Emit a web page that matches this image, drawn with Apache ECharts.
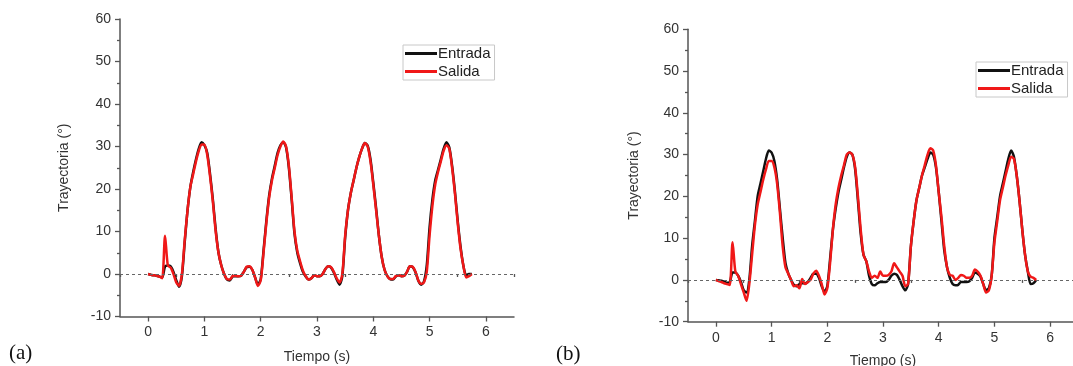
<!DOCTYPE html>
<html>
<head>
<meta charset="utf-8">
<script src="https://cdn.jsdelivr.net/npm/echarts@6/dist/echarts.min.js"></script>
<style>
html,body{margin:0;padding:0;background:#fff;}
#c{width:1073px;height:366px;}
</style>
</head>
<body>
<div id="c"></div>
<script>
// time samples (s)
const time = [
0.00,0.05,0.10,0.15,0.20,0.25,0.30,0.35,0.40,0.45,0.50,0.55,0.60,0.65,0.70,0.75,0.80,0.85,0.90,0.95,
1.00,1.05,1.10,1.15,1.20,1.25,1.30,1.35,1.40,1.45,1.50,1.55,1.60,1.65,1.70,1.75,1.80,1.85,1.90,1.95,
2.00,2.05,2.10,2.15,2.20,2.25,2.30,2.35,2.40,2.45,2.50,2.55,2.60,2.65,2.70,2.75,2.80,2.85,2.90,2.95,
3.00,3.05,3.10,3.15,3.20,3.25,3.30,3.35,3.40,3.45,3.50,3.55,3.60,3.65,3.70,3.75,3.80,3.85,3.90,3.95,
4.00,4.05,4.10,4.15,4.20,4.25,4.30,4.35,4.40,4.45,4.50,4.55,4.60,4.65,4.70,4.75,4.80,4.85,4.90,4.95,
5.00,5.05,5.10,5.15,5.20,5.25,5.30,5.35,5.40,5.45,5.50,5.55,5.60,5.65,5.70,5.75
];
// panel (a)
const entradaA = [
0,-0.2,-0.3,-0.4,-0.6,-0.8,1.8,2.0,1.8,0.5,-1.5,-3.0,-0.5,7.5,15.0,20.5,24.0,27.0,29.5,31.0,
30.3,28.5,23.5,17.5,10.5,5.0,2.0,0.0,-1.3,-1.5,-0.6,-0.5,-0.5,-0.4,0.5,1.6,1.7,1.0,-0.8,-2.5,
-1.2,5.5,12.5,18.5,22.5,25.5,28.5,30.3,31.0,29.8,25.0,17.5,9.5,5.0,2.5,0.5,-0.6,-1.3,-1.0,-0.3,
-0.5,-0.5,0.0,1.2,1.8,1.5,0.3,-1.3,-2.5,-0.5,8.5,15.0,19.0,22.0,25.0,27.5,29.5,30.8,30.2,27.0,
21.5,15.5,9.0,4.0,1.0,-0.5,-1.2,-1.3,-0.6,-0.3,-0.5,-0.4,0.5,1.8,1.6,0.4,-1.6,-2.5,-1.8,2.0,
11.0,17.5,22.0,24.5,27.0,29.5,31.0,29.8,25.5,19.5,12.5,6.5,2.0,-0.3,0.0,0.0
];
const salidaA = [
0,-0.2,-0.3,-0.4,-0.6,-1.0,9.0,2.0,1.5,0.0,-2.0,-2.8,0.0,8.0,15.0,20.5,23.5,26.5,29.0,30.5,
30.5,28.0,23.0,17.0,10.0,5.0,2.0,0.0,-1.2,-1.3,-0.5,-0.4,-0.5,-0.4,0.5,1.7,1.8,1.0,-0.8,-2.8,
-1.5,5.0,12.0,18.0,22.0,25.0,28.0,30.0,31.2,30.0,25.5,18.0,10.0,5.5,3.0,0.8,-0.5,-1.3,-1.0,-0.3,
-0.5,-0.5,0.0,1.2,1.8,1.6,0.5,-1.0,-2.0,0.0,9.0,15.0,19.0,22.0,25.0,27.5,29.5,30.8,30.0,26.5,
21.0,15.0,9.0,4.0,1.0,-0.5,-1.2,-1.2,-0.5,-0.3,-0.5,-0.4,0.5,1.8,1.7,0.5,-1.5,-2.3,-2.0,0.5,
9.0,16.0,21.0,24.0,26.5,29.0,30.3,29.5,25.0,19.0,12.0,6.0,2.0,-0.8,-0.5,0.0
];
// panel (b)
const entradaB = [
0,-0.1,-0.2,-0.4,-0.7,-0.5,1.8,1.8,1.0,-0.5,-2.5,-3.0,0.0,8.0,14.0,20.0,23.0,26.0,29.0,31.0,
30.5,28.5,24.0,17.0,10.0,4.0,1.5,0.0,-1.2,-1.5,-1.0,-0.8,-0.8,-0.5,0.5,1.5,1.5,0.5,-1.5,-2.8,
-1.5,5.0,12.0,17.0,21.0,24.0,27.0,29.5,30.5,30.0,26.5,19.0,11.0,6.0,4.5,1.0,-1.0,-1.3,-0.8,-0.5,
-0.5,-0.5,0.0,1.0,1.5,1.2,0.0,-1.5,-2.5,-1.0,8.0,14.0,19.0,22.0,25.0,27.0,29.0,30.5,30.0,27.0,
21.0,14.0,7.0,3.0,0.5,-1.0,-1.3,-1.2,-0.5,-0.5,-0.5,-0.3,0.5,1.8,1.5,0.8,-1.0,-2.5,-2.0,1.0,
10.0,15.0,20.0,23.0,26.0,29.0,31.0,29.5,25.0,19.0,12.0,6.0,2.0,-1.0,-0.8,0.0
];
const salidaB = [
0,-0.3,-0.5,-0.8,-1.0,-1.2,9.0,2.0,1.0,-1.0,-3.0,-5.0,-1.0,6.0,13.0,18.0,21.0,24.0,26.5,28.5,
28.5,27.0,23.0,16.0,8.0,3.0,1.5,0.0,-1.5,-1.3,-2.0,0.2,-1.0,-0.5,0.0,1.5,2.2,1.0,-1.0,-3.5,
-2.0,4.0,12.0,18.0,22.0,25.0,27.5,30.0,30.5,30.0,27.0,20.0,12.0,6.0,4.5,2.0,0.5,1.0,0.5,2.0,
1.0,1.0,1.2,2.0,4.0,3.0,2.0,1.0,-1.5,-1.0,8.0,14.0,19.0,22.0,25.0,27.5,30.0,31.5,31.0,27.5,
21.0,15.0,8.0,3.0,1.2,1.0,0.0,0.5,1.2,1.0,0.5,0.5,1.0,2.5,2.0,1.0,-1.0,-3.0,-2.5,1.0,
9.0,14.0,19.0,22.0,25.0,27.5,29.5,29.0,25.0,19.0,12.0,6.0,2.0,0.8,0.5,0.0
];
// tick labels
const xMajor = [0,1,2,3,4,5,6];
const xMinor = [-0.5,0.5,1.5,2.5,3.5,4.5,5.5,6.5];
const seriesNames = ['Entrada','Salida'];
const xName = 'Tiempo (s)';
const yName = 'Trayectoria (°)';
const panelLabels = ['(a)','(b)'];

const FONT = '"Liberation Sans", Arial, sans-serif';
const AX = '#555';
const TXT = '#333';
const BLACK = '#111111';
const RED = '#f01818';

function pairs(v){ return time.map((t,i)=>[t,v[i]]); }

const grids = [
  {left:120, top:19, width:394, height:297.5, containLabel:false, outerBoundsMode:'none'},
  {left:688, top:29.3, width:390, height:292.4, containLabel:false, outerBoundsMode:'none'}
];
const yGaps = [49, 47];
const xGaps = [34, 32];

const xAxes = [], yAxes = [], series = [];
grids.forEach((g,gi)=>{
  xAxes.push({
    type:'value', gridIndex:gi, min:-0.5, max:6.5,
    name:xName, nameLocation:'middle', nameGap:xGaps[gi],
    nameTextStyle:{fontFamily:FONT,fontSize:14,color:TXT},
    axisLine:{show:true,onZero:false,lineStyle:{color:AX,width:1.5}},
    axisTick:{show:true,customValues:xMajor,length:5,inside:false,lineStyle:{color:AX,width:1.3}},
    axisLabel:{customValues:xMajor,fontFamily:FONT,fontSize:14,color:TXT,margin:9},
    splitLine:{show:false}
  });
  xAxes.push({
    type:'value', gridIndex:gi, min:-0.5, max:6.5, position:'bottom',
    axisLine:{show:false},
    axisTick:{show:true,customValues:xMinor,length:3,lineStyle:{color:AX,width:1.3}},
    axisLabel:{show:false},
    splitLine:{show:false}
  });
  yAxes.push({
    type:'value', gridIndex:gi, min:-10, max:60, interval:10,
    name:yName, nameLocation:'middle', nameGap:yGaps[gi],
    nameTextStyle:{fontFamily:FONT,fontSize:14,color:TXT},
    axisLine:{show:true,onZero:false,lineStyle:{color:AX,width:1.5}},
    axisTick:{show:true,length:5,lineStyle:{color:AX,width:1.3}},
    minorTick:{show:true,splitNumber:2,length:3,lineStyle:{color:AX,width:1.3}},
    axisLabel:{fontFamily:FONT,fontSize:14,color:TXT,margin:9},
    splitLine:{show:false}
  });
});

const data = [[entradaA,salidaA],[entradaB,salidaB]];
data.forEach((pair,gi)=>{
  series.push({
    name:seriesNames[0], type:'line', xAxisIndex:gi*2, yAxisIndex:gi,
    data:pairs(pair[0]), showSymbol:false, smooth:0.25,
    lineStyle:{color:BLACK,width:2.5}, itemStyle:{color:BLACK},
    z:3,
    markLine:{silent:true, symbol:['none','none'], label:{show:false},
      lineStyle:{color:'#666',type:[3,3],width:1}, data:[{yAxis:0}]}
  });
  series.push({
    name:seriesNames[1], type:'line', xAxisIndex:gi*2, yAxisIndex:gi,
    data:pairs(pair[1]), showSymbol:false, smooth:0.25,
    lineStyle:{color:RED,width:2.5}, itemStyle:{color:RED},
    z:4
  });
});

const legendBase = {
  orient:'vertical', icon:'rect', itemWidth:32, itemHeight:3, itemGap:3,
  borderColor:'#c8c8c8', borderWidth:1, borderRadius:0, padding:[1,4,1,2],
  textStyle:{fontFamily:FONT,fontSize:15,color:'#222',padding:[0,0,0,-4]},
  data:seriesNames, selectedMode:false
};

const chart = echarts.init(document.getElementById('c'));
chart.setOption({
  animation:false,
  backgroundColor:'#fff',
  grid:grids,
  xAxis:xAxes,
  yAxis:yAxes,
  legend:[
    Object.assign({}, legendBase, {left:403, top:45}),
    Object.assign({}, legendBase, {left:976, top:62})
  ],
  graphic:[
    {type:'text', left:9, top:343, style:{text:panelLabels[0], font:'21px "Liberation Serif", "Times New Roman", serif', fill:'#111'}},
    {type:'text', left:556, top:344, style:{text:panelLabels[1], font:'21px "Liberation Serif", "Times New Roman", serif', fill:'#111'}}
  ],
  series:series
});
</script>
</body>
</html>
